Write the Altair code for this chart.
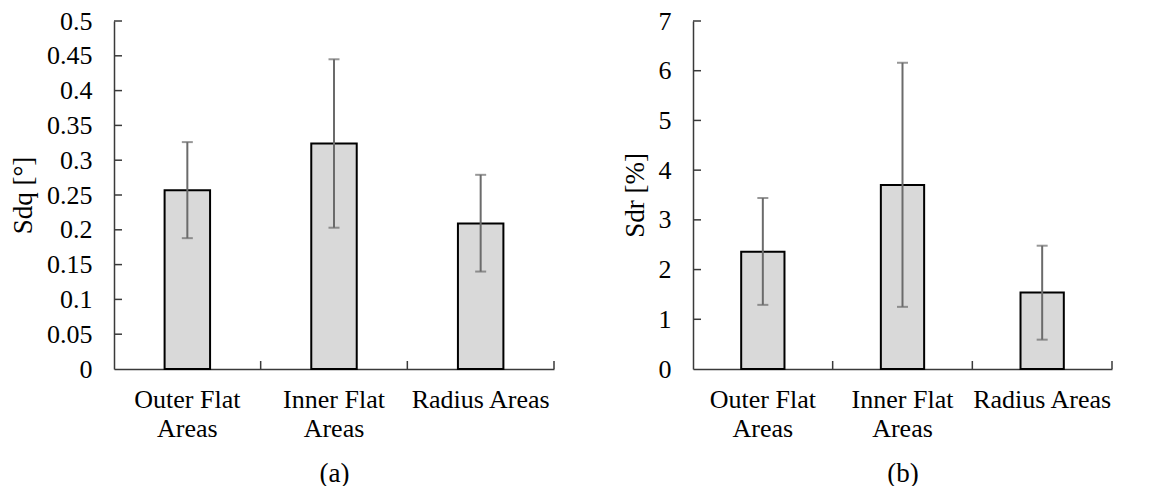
import altair as alt
import pandas as pd

categories = ["Outer Flat Areas", "Inner Flat Areas", "Radius Areas"]

sdq_mean = [0.257, 0.324, 0.209]
sdq_low = [0.188, 0.203, 0.140]
sdq_high = [0.326, 0.445, 0.279]
sdq_ticks = [0, 0.05, 0.1, 0.15, 0.2, 0.25, 0.3, 0.35, 0.4, 0.45, 0.5]

sdr_mean = [2.36, 3.70, 1.54]
sdr_low = [1.29, 1.25, 0.59]
sdr_high = [3.44, 6.16, 2.48]
sdr_ticks = [0, 1, 2, 3, 4, 5, 6, 7]

FONT = "Liberation Serif"
LFS = 26
TFS = 27
H = 348
AXIS_COLOR = "#3a3a3a"
ERR_COLOR = "#6b6b6b"


def panel(means, lows, highs, ticks, ytitle, xtitle, width):
    df = pd.DataFrame({"cat": categories, "mean": means, "low": lows, "high": highs})
    tdf = pd.DataFrame({"t": ticks[1:]})

    xscale = alt.Scale(paddingInner=0, paddingOuter=0)
    xaxis = alt.Axis(
        title=xtitle,
        labelAngle=0,
        ticks=False,
        labelExpr="datum.label == 'Radius Areas' ? datum.label : [replace(datum.label, ' Areas', ''), 'Areas']",
        labelLineHeight=29,
        labelPadding=17,
        titlePadding=19,
    )
    yscale = alt.Scale(domain=[ticks[0], ticks[-1]], nice=False, zero=True)
    yaxis = alt.Axis(
        title=ytitle,
        values=ticks,
        format="~g",
        ticks=False,
        labelPadding=22,
        titlePadding=9,
        grid=False,
    )

    def X(**kw):
        return alt.X("cat:N", sort=categories, scale=xscale, axis=xaxis, **kw)

    def Y(field):
        return alt.Y(field, scale=yscale, axis=yaxis)

    bars = alt.Chart(df).mark_bar(
        width=alt.RelativeBandSize(0.31), color="#d9d9d9", stroke="black", strokeWidth=2
    ).encode(x=X(), y=Y("mean:Q"))

    err = alt.Chart(df).mark_rule(color=ERR_COLOR, strokeWidth=2).encode(
        x=X(), y=Y("low:Q"), y2="high:Q"
    )
    cap_hi = alt.Chart(df).mark_tick(
        color=ERR_COLOR, size=11, thickness=2, orient="horizontal"
    ).encode(x=X(), y=Y("high:Q"))
    cap_lo = alt.Chart(df).mark_tick(
        color=ERR_COLOR, size=11, thickness=2, orient="horizontal"
    ).encode(x=X(), y=Y("low:Q"))

    ytk = alt.Chart(tdf).mark_rule(color=AXIS_COLOR, strokeWidth=1.5).encode(
        y=Y("t:Q"), x=alt.value(0), x2=alt.value(8)
    )
    xtk = alt.Chart(df).mark_rule(color=AXIS_COLOR, strokeWidth=1.5).encode(
        x=X(bandPosition=1), y=alt.value(H - 8), y2=alt.value(H)
    )

    return alt.layer(bars, err, cap_hi, cap_lo, ytk, xtk).properties(width=width, height=H)


left = panel(sdq_mean, sdq_low, sdq_high, sdq_ticks, "Sdq [°]", "(a)", 440)
right = panel(sdr_mean, sdr_low, sdr_high, sdr_ticks, "Sdr [%]", "(b)", 419)

chart = (
    alt.hconcat(left, right, spacing=66)
    .configure(font=FONT, padding={"left": 1, "top": 0, "right": 5, "bottom": 0})
    .configure_view(stroke=None)
    .configure_axis(
        labelFont=FONT,
        titleFont=FONT,
        labelFontSize=LFS,
        titleFontSize=TFS,
        labelColor="black",
        titleColor="black",
        titleFontWeight="normal",
        domainColor=AXIS_COLOR,
        domainWidth=1.5,
    )
)

chart.save("out.html", embed_options={"renderer": "svg", "actions": False})
